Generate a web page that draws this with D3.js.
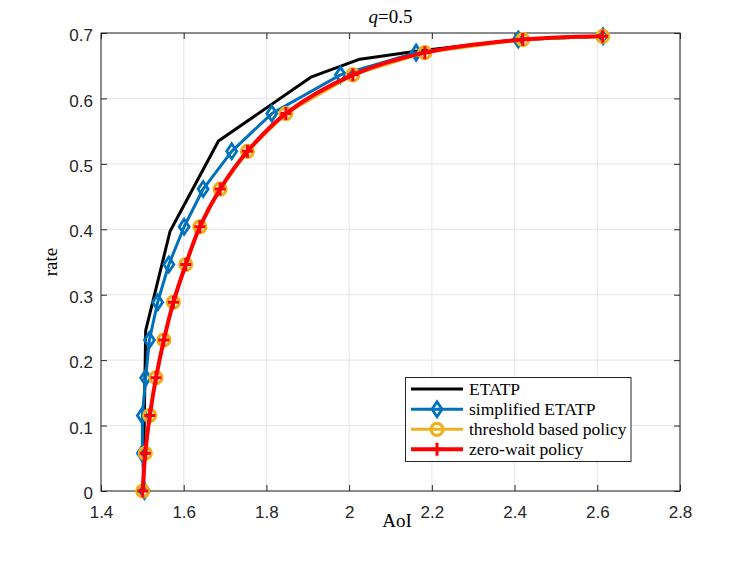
<!DOCTYPE html>
<html><head><meta charset="utf-8">
<script src="https://cdn.jsdelivr.net/npm/d3@7"></script>
<style>body{margin:0;background:#fff}svg{display:block}</style>
</head><body>
<svg id="c" width="747" height="561"></svg>
<script>
// ---- data ----
const xTicks = [1.4, 1.6, 1.8, 2, 2.2, 2.4, 2.6, 2.8];
const yTicks = [0, 0.1, 0.2, 0.3, 0.4, 0.5, 0.6, 0.7];
const etatpAoI  = [1.502, 1.508, 1.567, 1.684, 1.909, 2.026, 2.162, 2.409, 2.614];
const etatpRate = [0, 0.245, 0.397, 0.535, 0.633, 0.660, 0.672, 0.690, 0.695];
const markRate = [0, 0.0577, 0.1154, 0.1731, 0.2308, 0.2885, 0.3462, 0.4038, 0.4615, 0.5192, 0.5769, 0.636, 0.670, 0.690, 0.695];
const simpAoI   = [1.505, 1.500, 1.500, 1.508, 1.517, 1.537, 1.564, 1.601, 1.647, 1.716, 1.813, 1.979, 2.162, 2.409, 2.614];
const threshAoI = [1.501, 1.507, 1.518, 1.533, 1.552, 1.575, 1.605, 1.639, 1.688, 1.754, 1.847, 2.009, 2.183, 2.420, 2.613];
const zeroAoI   = [1.501, 1.507, 1.518, 1.533, 1.552, 1.575, 1.605, 1.639, 1.688, 1.754, 1.847, 2.009, 2.183, 2.420, 2.613];
const legendLabels = ["ETATP", "simplified ETATP", "threshold based policy", "zero-wait policy"];

// ---- layout ----
const L = 101, R = 680, T = 33, B = 491;
const svg = d3.select("#c");
const x = d3.scaleLinear().domain([1.4, 2.8]).range([L, R]);
const y = d3.scaleLinear().domain([0, 0.7]).range([B, T]);
const cBlack = "#000000", cBlue = "#0072BD", cOrange = "#EDB120", cRed = "#FF0000";
const axisCol = "#262626";

svg.append("rect").attr("x", L).attr("y", T).attr("width", R - L).attr("height", B - T).attr("fill", "#fff");

// grid
const g = svg.append("g");
g.selectAll(".gx").data(xTicks).join("line")
  .attr("x1", d => x(d)).attr("x2", d => x(d)).attr("y1", T).attr("y2", B)
  .attr("stroke", "#e5e5e5").attr("stroke-width", 1);
g.selectAll(".gy").data(yTicks).join("line")
  .attr("y1", d => y(d)).attr("y2", d => y(d)).attr("x1", L).attr("x2", R)
  .attr("stroke", "#e5e5e5").attr("stroke-width", 1);

// axes
const fontTick = "'Liberation Sans', Arial, Helvetica, sans-serif";
function styleAxis(sel) {
  sel.select(".domain").remove();
  sel.selectAll(".tick line").attr("stroke", axisCol).attr("stroke-width", 1);
  sel.selectAll(".tick text").attr("fill", axisCol).style("font-family", fontTick).style("font-size", "17px");
}
const fmt = d => String(+d.toFixed(1));
svg.append("g").attr("transform", `translate(0,${B})`)
  .call(d3.axisBottom(x).tickValues(xTicks).tickFormat(fmt).tickSizeInner(-6).tickSizeOuter(0).tickPadding(15))
  .call(styleAxis);
svg.append("g").attr("transform", `translate(0,${T})`)
  .call(d3.axisTop(x).tickValues(xTicks).tickFormat("").tickSizeInner(-6).tickSizeOuter(0))
  .call(styleAxis);
svg.append("g").attr("transform", `translate(${L},0)`)
  .call(d3.axisLeft(y).tickValues(yTicks).tickFormat(fmt).tickSizeInner(-6).tickSizeOuter(0).tickPadding(8))
  .call(styleAxis)
  .call(s => s.selectAll(".tick text").attr("dy", "0.45em"));
svg.append("g").attr("transform", `translate(${R},0)`)
  .call(d3.axisRight(y).tickValues(yTicks).tickFormat("").tickSizeInner(-6).tickSizeOuter(0))
  .call(styleAxis);
svg.append("rect").attr("x", L).attr("y", T).attr("width", R - L).attr("height", B - T)
  .attr("fill", "none").attr("stroke", axisCol).attr("stroke-width", 1);

// series
const lineLin = d3.line().x(d => x(d[0])).y(d => y(d[1]));
const lineSmooth = d3.line().x(d => x(d[0])).y(d => y(d[1])).curve(d3.curveCatmullRom.alpha(0.5));
const zip = (a, b) => a.map((v, i) => [v, b[i]]);
const plot = svg.append("g");

plot.append("path").attr("d", lineLin(zip(etatpAoI, etatpRate)))
  .attr("fill", "none").attr("stroke", cBlack).attr("stroke-width", 3).attr("stroke-linejoin", "round");

const simp = zip(simpAoI, markRate);
plot.append("path").attr("d", lineLin(simp))
  .attr("fill", "none").attr("stroke", cBlue).attr("stroke-width", 3).attr("stroke-linejoin", "round");
const diamond = "M0,-7.5 L5,0 L0,7.5 L-5,0 Z";
plot.selectAll(".dm").data(simp).join("path")
  .attr("transform", d => `translate(${x(d[0])},${y(d[1])})`)
  .attr("d", diamond).attr("fill", "none").attr("stroke", cBlue).attr("stroke-width", 2.8);

const th = zip(threshAoI, markRate);
plot.append("path").attr("d", lineLin(th))
  .attr("fill", "none").attr("stroke", cOrange).attr("stroke-width", 3);
plot.selectAll(".ci").data(th).join("circle")
  .attr("cx", d => x(d[0])).attr("cy", d => y(d[1])).attr("r", 6)
  .attr("fill", "none").attr("stroke", cOrange).attr("stroke-width", 3.2);

const zw = zip(zeroAoI, markRate);
plot.append("path").attr("d", lineSmooth(zw))
  .attr("fill", "none").attr("stroke", cRed).attr("stroke-width", 4).attr("stroke-linejoin", "round");
const plus = "M-5.5,0 L5.5,0 M0,-6.5 L0,6.5";
plot.selectAll(".pl").data(zw).join("path")
  .attr("transform", d => `translate(${x(d[0])},${y(d[1])})`)
  .attr("d", plus).attr("fill", "none").attr("stroke", cRed).attr("stroke-width", 3);

// labels
const fontSerif = "'Liberation Serif', 'Times New Roman', serif";
const title = svg.append("text").attr("x", (L + R) / 2).attr("y", 23).attr("text-anchor", "middle")
  .style("font-family", fontSerif).style("font-size", "19px").attr("fill", "#000");
title.append("tspan").style("font-style", "italic").text("q");
title.append("tspan").text("=0.5");
svg.append("text").attr("x", 397).attr("y", 527).attr("text-anchor", "middle")
  .style("font-family", fontSerif).style("font-size", "19px").attr("fill", "#000").text("AoI");
svg.append("text").attr("transform", `translate(57,${(T + B) / 2}) rotate(-90)`).attr("text-anchor", "middle")
  .style("font-family", fontSerif).style("font-size", "19px").attr("fill", "#000").text("rate");

// legend
const lg = svg.append("g");
lg.append("rect").attr("x", 405.5).attr("y", 377.5).attr("width", 225.5).attr("height", 84)
  .attr("fill", "#fff").attr("stroke", axisCol).attr("stroke-width", 1);
const rows = [389, 409.3, 429.3, 449.3];
const cols = [cBlack, cBlue, cOrange, cRed];
legendLabels.forEach((lab, i) => {
  const ry = rows[i];
  lg.append("line").attr("x1", 411).attr("x2", 463).attr("y1", ry).attr("y2", ry)
    .attr("stroke", cols[i]).attr("stroke-width", i === 3 ? 4 : 3);
  if (i === 1) lg.append("path").attr("transform", `translate(437,${ry})`).attr("d", diamond)
    .attr("fill", "none").attr("stroke", cBlue).attr("stroke-width", 2.8);
  if (i === 2) lg.append("circle").attr("cx", 437).attr("cy", ry).attr("r", 6)
    .attr("fill", "none").attr("stroke", cOrange).attr("stroke-width", 3.2);
  if (i === 3) lg.append("path").attr("transform", `translate(437,${ry})`).attr("d", plus)
    .attr("fill", "none").attr("stroke", cRed).attr("stroke-width", 3);
  lg.append("text").attr("x", 469).attr("y", ry).attr("dy", "0.33em")
    .style("font-family", fontSerif).style("font-size", "17.5px").attr("fill", "#000").text(lab);
});
</script>
</body></html>
